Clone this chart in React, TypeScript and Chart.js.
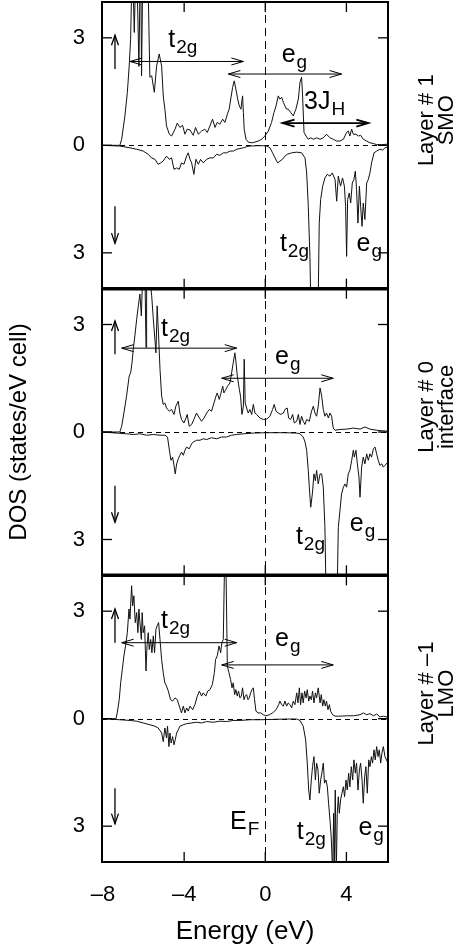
import React, { useEffect, useRef } from 'react';
import { Chart, registerables } from 'chart.js';

Chart.register(...registerables);

const FONT = "'Liberation Sans', Arial, Helvetica, sans-serif";

// Axis setup
const X_MIN = -8.05;
const X_MAX = 6.05;
const Y_MIN = -4;
const Y_MAX = 4;
const X_TICKS = [-8, -4, 0, 4];
const Y_TICKS = [-3, 0, 3];
const X_TITLE = 'Energy (eV)';
const Y_TITLE = 'DOS (states/eV cell)';
const PANEL_IDS = ['y1', 'y2', 'y3'];
const PANEL_NAMES = [
  ['Layer # 1', 'SMO'],
  ['Layer # 0', 'interface'],
  ['Layer # \u20131', 'LMO'],
];

// Layer #1 (SMO): spin up / spin down  [energy, DOS]
const smoUp: number[][] = [
  [-8.05, 0], [-7.6, 0], [-7.17, 0], [-7.08, 0.17], [-6.92, 0.82], [-6.8, 1.48], [-6.71, 2.21], [-6.64, 2.96],
  [-6.59, 4.3], [-6.56, 4.3], [-6.51, 4.3], [-6.46, 3.15], [-6.41, 4.3], [-6.31, 4.3], [-6.23, 2.2], [-6.18, 4.3],
  [-6.13, 4.3], [-6.1, 1.94], [-6.05, 4.3], [-5.85, 4.3], [-5.77, 4.3], [-5.69, 1.9], [-5.6, 1.94], [-5.52, 1.65],
  [-5.47, 1.48], [-5.36, 2.21], [-5.23, 2.55], [-5.11, 2.21], [-5.03, 1.38], [-4.95, 1.01], [-4.87, 0.54],
  [-4.73, 0.31], [-4.62, 0.26], [-4.45, 0.45], [-4.34, 0.62], [-4.21, 0.5], [-4.08, 0.56], [-3.96, 0.31],
  [-3.85, 0.45], [-3.71, 0.43], [-3.55, 0.28], [-3.44, 0.5], [-3.3, 0.31], [-3.14, 0.4], [-2.98, 0.45],
  [-2.86, 0.36], [-2.73, 0.54], [-2.6, 0.73], [-2.48, 0.5], [-2.37, 0.64], [-2.24, 0.59], [-2.1, 0.73],
  [-1.99, 0.64], [-1.87, 0.87], [-1.78, 1.01], [-1.69, 1.34], [-1.61, 1.62], [-1.53, 1.8], [-1.45, 1.57],
  [-1.36, 1.29], [-1.28, 1.1], [-1.2, 1.01], [-1.12, 1.38], [-1.08, 0.92], [-1.04, 0.45], [-0.95, 0.17],
  [-0.84, 0.09], [-0.67, 0.07], [-0.51, 0.09], [-0.35, 0.12], [-0.18, 0.17], [-0.02, 0.26], [0.15, 0.4],
  [0.31, 0.64], [0.43, 0.92], [0.53, 1.1], [0.64, 1.38], [0.72, 1.29], [0.81, 1.34], [0.89, 1.2], [0.97, 1.1],
  [1.05, 1.01], [1.13, 1.01], [1.25, 0.92], [1.38, 0.82], [1.51, 1.01], [1.63, 1.29], [1.71, 1.76], [1.79, 1.9],
  [1.84, 1.38], [1.91, 0.36], [2.01, 0.26], [2.12, 0.17], [2.24, 0.21], [2.37, 0.17], [2.53, 0.21], [2.7, 0.17],
  [2.86, 0.21], [3.02, 0.31], [3.19, 0.21], [3.35, 0.17], [3.52, 0.12], [3.68, 0.12], [3.85, 0.17], [4.01, 0.36],
  [4.09, 0.4], [4.17, 0.26], [4.26, 0.45], [4.34, 0.31], [4.47, 0.31], [4.59, 0.26], [4.7, 0.28], [4.83, 0.17],
  [5.0, 0.12], [5.16, 0.07], [5.33, 0.05], [5.49, 0.02], [5.74, 0.02], [5.98, 0.03], [6.05, 0.03],
];
const smoDown: number[][] = [
  [-8.05, 0], [-7.17, -0.02], [-6.67, -0.07], [-6.34, -0.11], [-6.02, -0.16], [-5.77, -0.25], [-5.61, -0.35],
  [-5.44, -0.39], [-5.28, -0.53], [-5.16, -0.49], [-5.03, -0.44], [-4.87, -0.3], [-4.73, -0.39], [-4.62, -0.35],
  [-4.5, -0.67], [-4.37, -0.63], [-4.24, -0.67], [-4.13, -0.49], [-4.01, -0.53], [-3.88, -0.3], [-3.8, -0.21],
  [-3.71, -0.39], [-3.63, -0.49], [-3.52, -0.81], [-3.42, -0.39], [-3.3, -0.53], [-3.19, -0.39], [-3.06, -0.49],
  [-2.89, -0.39], [-2.73, -0.35], [-2.56, -0.35], [-2.4, -0.25], [-2.24, -0.28], [-2.07, -0.21], [-1.91, -0.21],
  [-1.74, -0.16], [-1.58, -0.16], [-1.41, -0.11], [-1.25, -0.09], [-1.08, -0.07], [-0.92, -0.04], [-0.76, -0.02],
  [-0.43, -0.01], [-0.1, -0.01], [0.07, -0.02], [0.23, -0.07], [0.36, -0.21], [0.48, -0.35], [0.61, -0.49],
  [0.72, -0.44], [0.85, -0.39], [0.97, -0.3], [1.08, -0.25], [1.3, -0.21], [1.55, -0.19], [1.79, -0.21],
  [1.96, -0.35], [2.04, -0.77], [2.12, -1.7], [2.2, -3.1], [2.24, -4.3], [2.61, -4.3], [2.66, -2.17], [2.73, -1.51],
  [2.83, -1.14], [2.94, -0.91], [3.06, -0.81], [3.19, -0.86], [3.3, -0.77], [3.44, -0.95], [3.52, -1.56],
  [3.6, -0.86], [3.71, -1.14], [3.81, -0.91], [3.9, -1.14], [3.96, -1.7], [4.01, -3.1], [4.06, -1.51], [4.14, -1.33],
  [4.21, -1.61], [4.29, -1.05], [4.37, -0.95], [4.44, -0.72], [4.5, -1.23], [4.57, -2.17], [4.64, -1.14],
  [4.7, -1.7], [4.77, -2.26], [4.83, -1.61], [4.91, -2.07], [5.0, -1.05], [5.08, -0.95], [5.16, -0.77],
  [5.24, -0.49], [5.36, -0.21], [5.49, -0.16], [5.65, -0.11], [5.79, -0.13], [5.9, -0.07], [6.05, -0.04],
];

// Layer #0 (interface)
const ifaceUp: number[][] = [
  [-8.05, 0], [-7.17, 0], [-7.08, 0.16], [-6.97, 0.53], [-6.84, 1.0], [-6.71, 1.56], [-6.64, 1.65], [-6.57, 1.93],
  [-6.51, 2.31], [-6.43, 2.68], [-6.34, 3.15], [-6.26, 3.52], [-6.18, 3.85], [-6.11, 3.24], [-6.05, 4.3],
  [-5.93, 4.3], [-5.88, 2.36], [-5.85, 4.3], [-5.69, 4.3], [-5.6, 3.8], [-5.52, 3.15], [-5.39, 2.21], [-5.33, 3.52],
  [-5.26, 2.68], [-5.19, 1.75], [-5.11, 1.0], [-5.03, 0.77], [-4.95, 0.81], [-4.87, 0.67], [-4.73, 0.58],
  [-4.62, 0.63], [-4.5, 0.49], [-4.41, 0.72], [-4.29, 0.86], [-4.21, 0.53], [-4.13, 0.35], [-4.01, 0.25],
  [-3.91, 0.39], [-3.85, 0.49], [-3.75, 0.16], [-3.63, 0.21], [-3.52, 0.35], [-3.39, 0.53], [-3.25, 0.39],
  [-3.14, 0.3], [-3.02, 0.39], [-2.89, 0.53], [-2.76, 0.63], [-2.65, 0.58], [-2.53, 0.81], [-2.43, 1.0],
  [-2.37, 1.09], [-2.27, 0.91], [-2.2, 1.05], [-2.1, 1.28], [-2.04, 1.09], [-1.94, 1.19], [-1.86, 1.28],
  [-1.74, 1.37], [-1.66, 1.65], [-1.58, 1.93], [-1.5, 2.21], [-1.45, 1.98], [-1.38, 1.56], [-1.28, 1.19],
  [-1.22, 1.0], [-1.15, 0.49], [-1.08, 0.72], [-1.04, 2.03], [-0.99, 0.81], [-0.92, 0.67], [-0.84, 0.53],
  [-0.76, 0.63], [-0.67, 0.49], [-0.59, 0.77], [-0.51, 0.53], [-0.43, 0.49], [-0.26, 0.39], [-0.1, 0.35],
  [0.07, 0.36], [0.23, 0.44], [0.36, 0.63], [0.44, 0.77], [0.53, 0.58], [0.64, 0.53], [0.76, 0.49], [0.89, 0.53],
  [0.97, 0.63], [1.08, 0.67], [1.15, 0.39], [1.25, 0.35], [1.35, 0.49], [1.43, 0.25], [1.55, 0.3], [1.63, 0.49],
  [1.71, 0.21], [1.79, 0.44], [1.87, 0.3], [1.96, 0.21], [2.04, 0.35], [2.17, 0.3], [2.28, 0.58], [2.37, 0.72],
  [2.45, 0.53], [2.53, 0.44], [2.61, 0.72], [2.7, 1.23], [2.78, 1.0], [2.86, 0.63], [2.94, 0.44], [3.02, 0.53],
  [3.11, 0.39], [3.19, 0.53], [3.27, 0.44], [3.35, 0.11], [3.44, 0.05], [3.68, 0.07], [4.01, 0.08], [4.34, 0.11],
  [4.67, 0.08], [4.91, 0.14], [5.16, 0.08], [5.49, 0.05], [6.05, 0.02],
];
const ifaceDown: number[][] = [
  [-8.05, 0], [-7.33, -0.03], [-6.84, -0.05], [-6.51, -0.07], [-6.18, -0.05], [-5.85, -0.09], [-5.52, -0.07],
  [-5.19, -0.09], [-4.95, -0.09], [-4.82, -0.14], [-4.75, -0.42], [-4.7, -0.61], [-4.65, -0.79], [-4.57, -0.7],
  [-4.5, -0.93], [-4.44, -1.17], [-4.37, -0.89], [-4.29, -0.75], [-4.21, -0.65], [-4.13, -0.56], [-4.04, -0.65],
  [-3.96, -0.51], [-3.88, -0.42], [-3.75, -0.47], [-3.63, -0.33], [-3.55, -0.28], [-3.39, -0.23], [-3.22, -0.23],
  [-3.06, -0.19], [-2.89, -0.21], [-2.65, -0.16], [-2.4, -0.19], [-2.15, -0.14], [-1.91, -0.14], [-1.66, -0.09],
  [-1.41, -0.07], [-1.08, -0.05], [-0.59, -0.03], [0.07, -0.02], [0.89, -0.02], [1.55, -0.03], [1.71, -0.05],
  [1.87, -0.14], [1.96, -0.28], [2.04, -0.51], [2.12, -1.07], [2.17, -1.54], [2.24, -2.1], [2.32, -1.73],
  [2.4, -1.17], [2.47, -1.36], [2.53, -1.07], [2.61, -1.45], [2.7, -1.17], [2.78, -1.17], [2.86, -1.54],
  [2.94, -2.66], [2.99, -4.3], [3.55, -4.3], [3.6, -2.66], [3.68, -2.2], [3.76, -1.73], [3.85, -1.54], [3.93, -1.45],
  [4.01, -1.54], [4.09, -1.17], [4.17, -1.07], [4.26, -0.79], [4.34, -0.51], [4.39, -0.7], [4.47, -0.51],
  [4.54, -0.89], [4.62, -1.26], [4.67, -1.82], [4.75, -0.98], [4.83, -0.7], [4.91, -0.89], [5.0, -0.61],
  [5.08, -0.79], [5.16, -0.61], [5.24, -0.7], [5.33, -0.47], [5.41, -0.42], [5.49, -0.61], [5.57, -0.79],
  [5.65, -0.93], [5.74, -0.89], [5.82, -0.98], [5.9, -0.93], [6.05, -0.84],
];

// Layer #-1 (LMO)
const lmoUp: number[][] = [
  [-8.05, 0], [-7.36, 0], [-7.3, 0.16], [-7.2, 0.53], [-7.13, 1.0], [-7.05, 1.37], [-6.97, 1.75], [-6.89, 2.03],
  [-6.8, 2.4], [-6.72, 3.06], [-6.67, 2.78], [-6.59, 3.71], [-6.54, 3.15], [-6.48, 3.43], [-6.41, 2.68],
  [-6.34, 2.96], [-6.28, 2.4], [-6.23, 3.06], [-6.18, 2.68], [-6.11, 2.21], [-6.07, 2.96], [-6.02, 2.4],
  [-5.95, 2.59], [-5.88, 1.33], [-5.83, 2.03], [-5.77, 2.4], [-5.72, 1.93], [-5.65, 2.21], [-5.59, 1.84],
  [-5.52, 2.31], [-5.46, 1.84], [-5.39, 2.5], [-5.33, 2.59], [-5.26, 2.68], [-5.19, 2.21], [-5.11, 1.65],
  [-5.03, 1.28], [-4.95, 1.0], [-4.87, 0.91], [-4.78, 0.77], [-4.67, 0.53], [-4.57, 0.49], [-4.45, 0.58],
  [-4.34, 0.53], [-4.21, 0.3], [-4.13, 0.16], [-4.04, 0.35], [-3.96, 0.16], [-3.88, 0.3], [-3.8, 0.21],
  [-3.71, 0.35], [-3.58, 0.25], [-3.47, 0.39], [-3.35, 0.63], [-3.25, 0.77], [-3.14, 0.63], [-3.06, 0.72],
  [-2.93, 0.63], [-2.84, 0.77], [-2.73, 0.81], [-2.61, 0.95], [-2.51, 1.28], [-2.45, 1.65], [-2.37, 1.75],
  [-2.28, 2.03], [-2.2, 1.84], [-2.14, 2.12], [-2.07, 2.21], [-2.01, 4.3], [-1.94, 4.3], [-1.87, 1.47],
  [-1.79, 1.28], [-1.71, 1.09], [-1.64, 0.86], [-1.58, 1.0], [-1.51, 0.67], [-1.45, 0.81], [-1.38, 0.63],
  [-1.32, 0.77], [-1.25, 0.58], [-1.18, 0.63], [-1.12, 0.86], [-1.05, 0.53], [-0.99, 0.63], [-0.92, 0.67],
  [-0.85, 0.53], [-0.79, 0.58], [-0.72, 0.72], [-0.66, 0.81], [-0.59, 0.86], [-0.53, 0.53], [-0.46, 0.21],
  [-0.35, 0.16], [-0.23, 0.16], [-0.1, 0.11], [0.03, 0.08], [0.2, 0.11], [0.36, 0.16], [0.53, 0.25], [0.66, 0.39],
  [0.72, 0.49], [0.81, 0.39], [0.89, 0.35], [0.97, 0.49], [1.05, 0.35], [1.13, 0.44], [1.22, 0.39], [1.3, 0.3],
  [1.38, 0.49], [1.46, 0.39], [1.55, 0.72], [1.61, 0.44], [1.68, 0.86], [1.74, 0.39], [1.81, 0.72], [1.87, 0.44],
  [1.94, 0.77], [2.01, 0.58], [2.07, 0.81], [2.14, 0.49], [2.2, 0.63], [2.27, 0.53], [2.33, 0.77], [2.4, 0.44],
  [2.47, 0.72], [2.53, 0.58], [2.61, 0.86], [2.7, 0.44], [2.76, 0.67], [2.83, 0.35], [2.89, 0.53], [2.96, 0.35],
  [3.02, 0.49], [3.09, 0.25], [3.16, 0.39], [3.22, 0.21], [3.32, 0.11], [3.44, 0.07], [3.68, 0.07], [4.01, 0.08],
  [4.34, 0.08], [4.67, 0.11], [4.83, 0.16], [5.0, 0.11], [5.16, 0.14], [5.33, 0.08], [5.49, 0.13], [5.65, 0.05],
  [5.82, 0.07], [6.05, 0.04],
];
const lmoDown: number[][] = [
  [-8.05, 0], [-7.17, -0.03], [-6.67, -0.05], [-6.34, -0.07], [-6.02, -0.12], [-5.69, -0.17], [-5.44, -0.21],
  [-5.28, -0.26], [-5.11, -0.4], [-5.03, -0.64], [-4.95, -0.26], [-4.87, -0.54], [-4.82, -0.21], [-4.75, -0.78],
  [-4.7, -0.4], [-4.64, -0.68], [-4.57, -0.5], [-4.5, -0.73], [-4.44, -0.59], [-4.37, -0.4], [-4.29, -0.31],
  [-4.21, -0.21], [-4.04, -0.17], [-3.88, -0.14], [-3.63, -0.12], [-3.39, -0.1], [-3.14, -0.12], [-2.89, -0.08],
  [-2.56, -0.1], [-2.24, -0.07], [-1.91, -0.08], [-1.58, -0.05], [-1.25, -0.05], [-0.76, -0.03], [-0.26, -0.03],
  [0.39, -0.02], [1.05, -0.01], [1.55, -0.01], [1.71, -0.05], [1.87, -0.21], [1.99, -0.59], [2.07, -1.24],
  [2.14, -1.99], [2.2, -2.27], [2.27, -1.71], [2.33, -1.34], [2.4, -1.06], [2.47, -1.71], [2.53, -1.24],
  [2.6, -1.43], [2.66, -2.08], [2.73, -1.71], [2.79, -1.52], [2.86, -1.24], [2.92, -1.8], [2.99, -1.71],
  [3.06, -1.9], [3.12, -2.36], [3.19, -2.83], [3.25, -3.3], [3.32, -4.3], [3.37, -2.64], [3.4, -4.3], [3.45, -1.99],
  [3.5, -4.3], [3.55, -2.64], [3.6, -2.18], [3.65, -2.64], [3.71, -2.27], [3.78, -2.08], [3.85, -1.9], [3.91, -2.18],
  [3.98, -1.71], [4.04, -1.99], [4.11, -1.52], [4.17, -1.9], [4.24, -1.34], [4.31, -1.71], [4.37, -1.15],
  [4.44, -1.52], [4.5, -1.24], [4.57, -1.99], [4.64, -1.43], [4.7, -1.24], [4.77, -1.71], [4.83, -2.36],
  [4.9, -1.62], [4.96, -1.34], [5.03, -2.08], [5.1, -1.15], [5.16, -1.34], [5.23, -1.06], [5.29, -1.24],
  [5.36, -0.87], [5.42, -1.15], [5.49, -0.78], [5.56, -1.06], [5.62, -0.87], [5.69, -1.24], [5.75, -0.96],
  [5.82, -0.78], [5.9, -1.06], [6.05, -1.24],
];

const SERIES = [
  { data: smoUp, axis: 'y1' },
  { data: smoDown, axis: 'y1' },
  { data: ifaceUp, axis: 'y2' },
  { data: ifaceDown, axis: 'y2' },
  { data: lmoUp, axis: 'y3' },
  { data: lmoDown, axis: 'y3' },
];

// Annotations, in data coordinates
const H_ARROWS = [
  { axis: 'y1', from: -6.67, to: -1.08, y: 2.34, w: 1 },
  { axis: 'y1', from: -1.82, to: 3.76, y: 1.99, w: 1 },
  { axis: 'y1', from: 0.85, to: 5.08, y: 0.62, w: 1.8 },
  { axis: 'y2', from: -7.08, to: -1.41, y: 2.34, w: 1 },
  { axis: 'y2', from: -2.15, to: 3.35, y: 1.5, w: 1 },
  { axis: 'y3', from: -7.08, to: -1.41, y: 2.12, w: 1 },
  { axis: 'y3', from: -2.15, to: 3.35, y: 1.5, w: 1 },
];
const SPIN_ARROWS = [
  { axis: 'y1', x: -7.41, tail: 2.13, tip: 3.07 },
  { axis: 'y1', x: -7.41, tail: -1.7, tip: -2.73 },
  { axis: 'y2', x: -7.41, tail: 2.17, tip: 3.1 },
  { axis: 'y2', x: -7.41, tail: -1.5, tip: -2.52 },
  { axis: 'y3', x: -7.41, tail: 2.12, tip: 3.06 },
  { axis: 'y3', x: -7.41, tail: -1.94, tip: -2.93 },
];
const LABELS = [
  { axis: 'y1', x: -4.78, y: 2.74, main: 't', sub: '2g' },
  { axis: 'y1', x: 0.81, y: 2.32, main: 'e', sub: 'g' },
  { axis: 'y1', x: 1.91, y: 1.01, main: '3J', sub: 'H' },
  { axis: 'y1', x: 0.72, y: -2.96, main: 't', sub: '2g' },
  { axis: 'y1', x: 4.5, y: -2.96, main: 'e', sub: 'g' },
  { axis: 'y2', x: -5.14, y: 2.68, main: 't', sub: '2g' },
  { axis: 'y2', x: 0.48, y: 1.89, main: 'e', sub: 'g' },
  { axis: 'y2', x: 1.51, y: -3.13, main: 't', sub: '2g' },
  { axis: 'y2', x: 4.17, y: -2.76, main: 'e', sub: 'g' },
  { axis: 'y3', x: -5.14, y: 2.54, main: 't', sub: '2g' },
  { axis: 'y3', x: 0.48, y: 2.03, main: 'e', sub: 'g' },
  { axis: 'y3', x: -1.74, y: -3.07, main: 'E', sub: 'F' },
  { axis: 'y3', x: 1.55, y: -3.35, main: 't', sub: '2g' },
  { axis: 'y3', x: 4.59, y: -3.25, main: 'e', sub: 'g' },
];

function seg(ctx: CanvasRenderingContext2D, x1: number, y1: number, x2: number, y2: number) {
  ctx.beginPath();
  ctx.moveTo(x1, y1);
  ctx.lineTo(x2, y2);
  ctx.stroke();
}

const decorPlugin = {
  id: 'decor',
  beforeDatasetsDraw(chart: any) {
    const ctx: CanvasRenderingContext2D = chart.ctx;
    const { left, right, top, bottom } = chart.chartArea;
    const xs = chart.scales.x;
    ctx.save();
    ctx.strokeStyle = '#000';
    ctx.lineWidth = 1;
    ctx.setLineDash([5, 4]);
    for (const id of PANEL_IDS) {
      const y0 = Math.round(chart.scales[id].getPixelForValue(0)) + 0.5;
      seg(ctx, left, y0, right, y0);
    }
    ctx.setLineDash([8, 5]);
    const x0 = Math.round(xs.getPixelForValue(0)) + 0.5;
    seg(ctx, x0, top, x0, bottom);
    ctx.restore();
  },
  beforeDatasetDraw(chart: any, args: any) {
    const ctx: CanvasRenderingContext2D = chart.ctx;
    const ys = chart.scales[args.meta.yAxisID];
    const { left, right } = chart.chartArea;
    ctx.save();
    ctx.beginPath();
    ctx.rect(left, ys.top, right - left, ys.bottom - ys.top);
    ctx.clip();
  },
  afterDatasetDraw(chart: any) {
    chart.ctx.restore();
  },
  afterDraw(chart: any) {
    const ctx: CanvasRenderingContext2D = chart.ctx;
    const { left, right } = chart.chartArea;
    const xs = chart.scales.x;
    ctx.save();
    ctx.strokeStyle = '#000';
    ctx.fillStyle = '#000';
    ctx.setLineDash([]);

    PANEL_IDS.forEach((id, i) => {
      const ys = chart.scales[id];
      ctx.lineWidth = 2;
      ctx.strokeRect(left, ys.top, right - left, ys.bottom - ys.top);
      ctx.lineWidth = 1.3;
      for (const v of X_TICKS) {
        const px = xs.getPixelForValue(v);
        if (px <= left + 2) continue;
        seg(ctx, px, ys.top, px, ys.top + 10);
        seg(ctx, px, ys.bottom, px, ys.bottom - 10);
      }
      for (const v of Y_TICKS) {
        const py = ys.getPixelForValue(v);
        seg(ctx, left, py, left + 10, py);
        seg(ctx, right, py, right - 10, py);
      }
      // layer name, set a little above the panel centre
      const cy = ys.getPixelForValue(0.7);
      ctx.save();
      ctx.translate(right + 39, cy);
      ctx.rotate(-Math.PI / 2);
      ctx.font = `22px ${FONT}`;
      ctx.textAlign = 'center';
      ctx.textBaseline = 'middle';
      ctx.fillText(PANEL_NAMES[i][0], 0, 0);
      ctx.fillText(PANEL_NAMES[i][1], 0, 20);
      ctx.restore();
    });
    ctx.lineWidth = 3.5;
    for (let i = 0; i < PANEL_IDS.length - 1; i++) {
      const yb = chart.scales[PANEL_IDS[i]].bottom;
      seg(ctx, left - 1, yb, right + 1, yb);
    }

    for (const a of H_ARROWS) {
      const ys = chart.scales[a.axis];
      const y = ys.getPixelForValue(a.y);
      const x1 = xs.getPixelForValue(a.from);
      const x2 = xs.getPixelForValue(a.to);
      ctx.lineWidth = a.w;
      seg(ctx, x1, y, x2, y);
      ctx.beginPath();
      ctx.moveTo(x1 + 12, y - 3.5);
      ctx.lineTo(x1, y);
      ctx.lineTo(x1 + 12, y + 3.5);
      ctx.moveTo(x2 - 12, y - 3.5);
      ctx.lineTo(x2, y);
      ctx.lineTo(x2 - 12, y + 3.5);
      ctx.stroke();
    }
    ctx.lineWidth = 1.3;
    for (const a of SPIN_ARROWS) {
      const ys = chart.scales[a.axis];
      const x = xs.getPixelForValue(a.x);
      const yt = ys.getPixelForValue(a.tail);
      const yp = ys.getPixelForValue(a.tip);
      const d = yp < yt ? 1 : -1;
      seg(ctx, x, yt, x, yp);
      ctx.beginPath();
      ctx.moveTo(x - 3.5, yp + d * 10);
      ctx.lineTo(x, yp);
      ctx.lineTo(x + 3.5, yp + d * 10);
      ctx.stroke();
    }
    ctx.textAlign = 'left';
    ctx.textBaseline = 'alphabetic';
    for (const l of LABELS) {
      const ys = chart.scales[l.axis];
      const x = xs.getPixelForValue(l.x);
      const y = ys.getPixelForValue(l.y);
      ctx.font = `25px ${FONT}`;
      ctx.fillText(l.main, x, y);
      const w = ctx.measureText(l.main).width;
      ctx.font = `19px ${FONT}`;
      ctx.fillText(l.sub, x + w + 1, y + 6);
    }
    ctx.restore();
  },
};

function zeroPad(s: any) {
  s.paddingTop = 0;
  s.paddingBottom = 0;
  s.paddingLeft = 0;
  s.paddingRight = 0;
}

function yAxis(weight: number, title?: string) {
  return {
    type: 'linear',
    position: 'left',
    stack: 'dos',
    stackWeight: 1,
    weight,
    min: Y_MIN,
    max: Y_MAX,
    afterBuildTicks: (s: any) => {
      s.ticks = Y_TICKS.map((v) => ({ value: v }));
    },
    afterFit: (s: any) => {
      s.width = 102;
      zeroPad(s);
    },
    grid: { display: false, drawTicks: false },
    border: { display: false },
    ticks: {
      font: { size: 22, family: FONT },
      color: '#000',
      padding: 17,
      callback: (v: any) => String(Math.abs(Number(v))),
    },
    title: title
      ? { display: true, text: title, color: '#000', font: { size: 24, family: FONT }, padding: { top: 5, bottom: 0 } }
      : { display: false },
  };
}

export default function App() {
  const ref = useRef<HTMLCanvasElement>(null);
  useEffect(() => {
    if (!ref.current) return;
    const chart = new Chart(ref.current, {
      type: 'line',
      data: {
        datasets: SERIES.map((s) => ({
          data: s.data.map(([x, y]) => ({ x, y })),
          yAxisID: s.axis,
          xAxisID: 'x',
          borderColor: '#111',
          borderWidth: 1,
          pointRadius: 0,
          fill: false,
          tension: 0,
        })),
      },
      options: {
        animation: false,
        responsive: false,
        devicePixelRatio: 1,
        layout: { padding: { top: 2, right: 77, left: 0, bottom: 0 } },
        plugins: { legend: { display: false }, tooltip: { enabled: false } },
        scales: {
          x: {
            type: 'linear',
            position: 'bottom',
            min: X_MIN,
            max: X_MAX,
            afterBuildTicks: (s: any) => {
              s.ticks = X_TICKS.map((v) => ({ value: v }));
            },
            afterFit: (s: any) => {
              s.height = 85;
              zeroPad(s);
            },
            grid: { display: false, drawTicks: false },
            border: { display: false },
            ticks: {
              font: { size: 22, family: FONT },
              color: '#000',
              padding: 20,
              maxRotation: 0,
              autoSkip: false,
              callback: (v: any) => (Number(v) < 0 ? '\u2013' + Math.abs(Number(v)) : String(v)),
            },
            title: { display: true, text: X_TITLE, color: '#000', font: { size: 26, family: FONT }, padding: { top: 0, bottom: 0 } },
          },
          y1: yAxis(3),
          y2: yAxis(2, Y_TITLE),
          y3: yAxis(1),
        } as any,
      },
      plugins: [decorPlugin as any],
    });
    return () => chart.destroy();
  }, []);
  return (
    <div style={{ position: 'absolute', left: 0, top: 0, width: 465, height: 947, background: '#fff' }}>
      <canvas ref={ref} width={465} height={947} style={{ display: 'block', width: 465, height: 947 }} />
    </div>
  );
}
